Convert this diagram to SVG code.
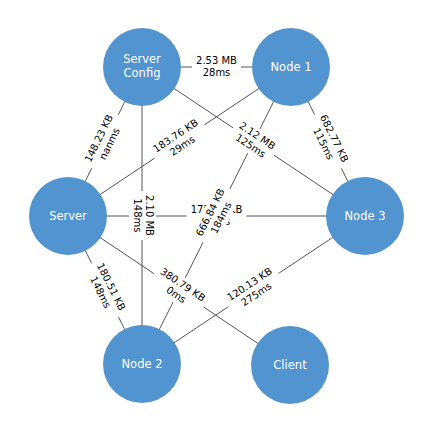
<svg xmlns="http://www.w3.org/2000/svg" width="432" height="432" viewBox="0 0 432 432">
<style>
.e{stroke:#555;stroke-width:1;fill:none}
.n{fill:#5294cf}
.nt{font-family:"DejaVu Sans",sans-serif;font-size:11.5px;fill:#fff;text-anchor:middle}
.lb{fill:#fff}
.lt{font-family:"DejaVu Sans",sans-serif;font-size:10px;fill:#000;text-anchor:middle}
</style>
<rect width="432" height="432" fill="#fff"/>
<g id="edges">
<line class="e" x1="142" y1="67" x2="291" y2="67"/>
<line class="e" x1="142" y1="67" x2="68" y2="216"/>
<line class="e" x1="142" y1="67" x2="365" y2="216"/>
<line class="e" x1="142" y1="67" x2="142" y2="364"/>
<line class="e" x1="291" y1="67" x2="68" y2="216"/>
<line class="e" x1="291" y1="67" x2="365" y2="216"/>
<line class="e" x1="291" y1="67" x2="142" y2="364"/>
<line class="e" x1="68" y1="216" x2="365" y2="216"/>
<line class="e" x1="68" y1="216" x2="142" y2="364"/>
<line class="e" x1="68" y1="216" x2="290" y2="365"/>
<line class="e" x1="365" y1="216" x2="142" y2="364"/>
</g>
<g id="node-server-config"><circle class="n" cx="142" cy="67" r="39"/><text class="nt" x="142" y="63">Server</text><text class="nt" x="142" y="77">Config</text></g>
<g id="node-node1"><circle class="n" cx="291" cy="67" r="39"/><text class="nt" x="291" y="71">Node 1</text></g>
<g id="node-server"><circle class="n" cx="68" cy="216" r="39"/><text class="nt" x="68" y="220">Server</text></g>
<g id="node-node3"><circle class="n" cx="365" cy="216" r="39"/><text class="nt" x="365" y="220">Node 3</text></g>
<g id="node-node2"><circle class="n" cx="142" cy="364" r="39"/><text class="nt" x="142" y="368">Node 2</text></g>
<g id="node-client"><circle class="n" cx="290" cy="365" r="39"/><text class="nt" x="290" y="369">Client</text></g>
<g id="edge-labels">
<g transform="translate(216.5,67)"><rect class="lb" x="-24.5" y="-14" width="49" height="27" rx="3"/><text class="lt" y="-3.5">2.53 MB</text><text class="lt" y="8.5">28ms</text></g>
<g transform="translate(105,141.5) rotate(-63.6)"><rect class="lb" x="-30" y="-14" width="60" height="27" rx="3"/><text class="lt" y="-3.5">148.23 KB</text><text class="lt" y="8.5">nanms</text></g>
<g transform="translate(253.5,141.5) rotate(33.7)"><rect class="lb" x="-24.5" y="-14" width="49" height="27" rx="3"/><text class="lt" y="-3.5">2.12 MB</text><text class="lt" y="8.5">125ms</text></g>
<g transform="translate(142,215.5) rotate(90)"><rect class="lb" x="-24.5" y="-14" width="49" height="27" rx="3"/><text class="lt" y="-3.5">2.10 MB</text><text class="lt" y="8.5">148ms</text></g>
<g transform="translate(179.5,141.5) rotate(-33.7)"><rect class="lb" x="-30" y="-14" width="60" height="27" rx="3"/><text class="lt" y="-3.5">183.76 KB</text><text class="lt" y="8.5">29ms</text></g>
<g transform="translate(328,141.5) rotate(63.6)"><rect class="lb" x="-30" y="-14" width="60" height="27" rx="3"/><text class="lt" y="-3.5">682.77 KB</text><text class="lt" y="8.5">115ms</text></g>
<g transform="translate(216.5,216)"><rect class="lb" x="-30" y="-14" width="60" height="27" rx="3"/><text class="lt" y="-3.5">175.42 KB</text><text class="lt" y="8.5">12ms</text></g>
<g transform="translate(216.5,215.5) rotate(-63.4)"><rect class="lb" x="-30" y="-14" width="60" height="27" rx="3"/><text class="lt" y="-3.5">666.84 KB</text><text class="lt" y="8.5">184ms</text></g>
<g transform="translate(105,290) rotate(63.4)"><rect class="lb" x="-30" y="-14" width="60" height="27" rx="3"/><text class="lt" y="-3.5">180.51 KB</text><text class="lt" y="8.5">148ms</text></g>
<g transform="translate(179,290.5) rotate(33.9)"><rect class="lb" x="-30" y="-14" width="60" height="27" rx="3"/><text class="lt" y="-3.5">380.79 KB</text><text class="lt" y="8.5">0ms</text></g>
<g transform="translate(253.5,290) rotate(-33.6)"><rect class="lb" x="-30" y="-14" width="60" height="27" rx="3"/><text class="lt" y="-3.5">120.13 KB</text><text class="lt" y="8.5">275ms</text></g>
</g>
</svg>
